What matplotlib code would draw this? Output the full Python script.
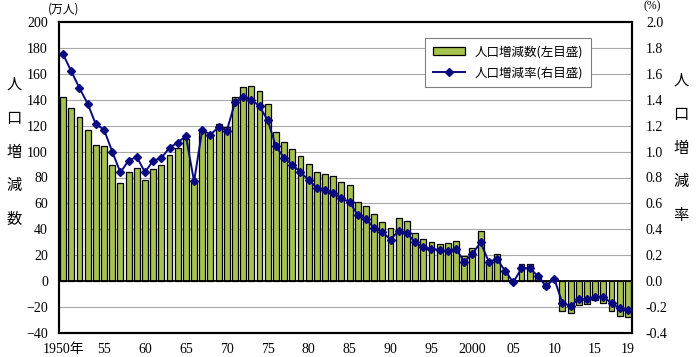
import matplotlib
matplotlib.use("Agg")
import matplotlib.pyplot as plt
from matplotlib.lines import Line2D
from matplotlib.patches import Patch

plt.rcParams['font.family'] = ['Liberation Serif', 'Noto Sans CJK JP']

# population change per year (10k persons), left axis
years = list(range(1950, 2020))
change = [
    142.3, 134.0, 126.4, 117.0, 105.0, 104.0, 89.8, 75.4, 84.2, 87.3,
    78.0, 86.7, 89.3, 97.3, 102.7, 109.9, 76.4, 114.8, 112.0, 121.0,
    118.7, 142.4, 149.5, 150.8, 147.0, 137.0, 115.3, 107.5, 102.3, 96.6,
    90.4, 84.3, 83.0, 80.8, 76.2, 74.0, 60.8, 57.9, 51.5, 45.8,
    40.7, 48.9, 46.6, 37.3, 32.7, 30.6, 28.8, 29.1, 31.1, 19.3,
    25.5, 38.6, 16.7, 20.6, 9.0, -1.5, 13.1, 13.1, 4.0, -5.0,
    2.5, -23.0, -24.5, -18.5, -17.8, -14.5, -16.5, -22.7, -26.5, -27.7,
]
# rate of change (%), right axis
rate = [
    1.75, 1.62, 1.49, 1.37, 1.21, 1.17, 1.00, 0.84, 0.93, 0.96,
    0.84, 0.93, 0.95, 1.03, 1.07, 1.12, 0.77, 1.17, 1.13, 1.19,
    1.16, 1.38, 1.42, 1.40, 1.35, 1.24, 1.04, 0.95, 0.90, 0.84,
    0.78, 0.72, 0.70, 0.68, 0.64, 0.61, 0.51, 0.48, 0.41, 0.38,
    0.32, 0.39, 0.37, 0.30, 0.26, 0.25, 0.24, 0.23, 0.25, 0.15,
    0.21, 0.30, 0.15, 0.17, 0.08, -0.01, 0.10, 0.10, 0.04, -0.04,
    0.02, -0.17, -0.19, -0.14, -0.14, -0.12, -0.12, -0.17, -0.21, -0.22,
]
tick_years = [1950, 1955, 1960, 1965, 1970, 1975, 1980, 1985, 1990, 1995,
              2000, 2005, 2010, 2015, 2019]
tick_labels = ['1950年', '55', '60', '65', '70', '75', '80', '85', '90', '95',
               '2000', '05', '10', '15', '19']

bar_color = '#a6c350'
line_color = '#0a0a80'

fig = plt.figure(figsize=(6.99, 3.57), dpi=100)
ax = fig.add_axes([59 / 699, 1 - 333 / 357, (632 - 59) / 699, (333 - 22) / 357])

ax.bar(years, change, width=0.72, color=bar_color, edgecolor='black',
       linewidth=0.9, zorder=2)
ax.set_xlim(1949.5, 2019.5)
ax.set_ylim(-40, 200)
ax.set_yticks(range(-40, 201, 20))
for v in range(-20, 200, 20):
    if v != 0:
        ax.axhline(v, color='#a8a8a8', lw=0.8, zorder=0)
ax.axhline(0, color='black', lw=1.3, zorder=3)
ax.set_xticks(tick_years)
ax.set_xticklabels(tick_labels)
ax.tick_params(axis='both', length=0, labelsize=10)
ax.tick_params(axis='x', pad=7)
ax.tick_params(axis='y', pad=8)
for s in ax.spines.values():
    s.set_linewidth(1.5)

ax2 = ax.twinx()
ax2.plot(years, rate, color=line_color, lw=1.4, marker='D', markersize=4,
         zorder=4)
ax2.set_ylim(-0.4, 2.0)
ax2.set_yticks([x / 10 for x in range(-4, 21, 2)])
ax2.set_yticklabels(['%.1f' % (x / 10) for x in range(-4, 21, 2)])
ax2.tick_params(axis='y', length=0, labelsize=10, pad=10)
for s in ax2.spines.values():
    s.set_linewidth(1.5)

handles = [Patch(facecolor=bar_color, edgecolor='black', linewidth=0.9),
           Line2D([], [], color=line_color, lw=1.4, marker='D', markersize=4)]
leg = ax2.legend(handles, ['人口増減数(左目盛)', '人口増減率(右目盛)'],
                 loc='upper left', bbox_to_anchor=(0.628, 0.97),
                 fancybox=False, framealpha=1, edgecolor='#808080',
                 prop={'family': ['Noto Sans CJK JP'], 'size': 9},
                 handlelength=2.6, handleheight=0.6, labelspacing=0.65,
                 borderpad=0.6)
leg.get_frame().set_linewidth(0.8)

fig.text(14 / 699, 1 - 152 / 357, '人\n口\n増\n減\n数', ha='center', va='center',
         fontsize=11, linespacing=2.3, family=['Noto Sans CJK JP'])
fig.text(681 / 699, 1 - 148 / 357, '人\n口\n増\n減\n率', ha='center', va='center',
         fontsize=11, linespacing=2.3, family=['Noto Sans CJK JP'])
fig.text(64 / 699, 1 - 9 / 357, '(万人)', ha='center', va='center', fontsize=8.5,
         family=['Noto Sans CJK JP'])
fig.text(652 / 699, 1 - 6 / 357, '(%)', ha='center', va='center', fontsize=8.5)

fig.savefig('out.png', dpi=100)
